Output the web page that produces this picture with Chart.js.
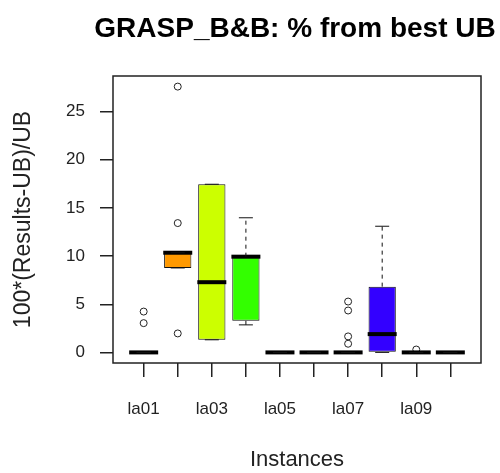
<!DOCTYPE html>
<html>
<head>
<meta charset="utf-8">
<script src="https://cdn.jsdelivr.net/npm/chart.js@4.4.0/dist/chart.umd.min.js"></script>
<style>
  html, body { margin: 0; padding: 0; background: #fff; }
  #wrap { width: 500px; height: 473px; }
</style>
</head>
<body>
<div id="wrap"><canvas id="boxChart" width="500" height="473"></canvas></div>
<script>
// GRASP_B&B deviation from the best upper bound, one box per instance
const chartTitle = 'GRASP_B&B: % from best UB';
const instances = ['la01', 'la02', 'la03', 'la04', 'la05', 'la06', 'la07', 'la08', 'la09', 'la10'];
const xTickLabels = ['la01', '', 'la03', '', 'la05', '', 'la07', '', 'la09', ''];
const yTicks = [0, 5, 10, 15, 20, 25];

const q1        = [0, 8.77, 1.31, 3.28, 0, 0, 0, 0, 0, 0];
const median    = [0, 10.35, 7.29, 9.94, 0, 0, 0, 1.9, 0, 0];
const q3        = [0, 10.35, 17.46, 9.94, 0, 0, 0, 6.83, 0, 0];
const whiskLow  = [0, 8.77, 1.31, 2.86, 0, 0, 0, 0, 0, 0];
const whiskHigh = [0, 10.35, 17.46, 13.98, 0, 0, 0, 13.1, 0, 0];
const outliers  = [[3.04, 4.24], [1.97, 13.43, 27.6], [], [], [], [], [0.9, 1.66, 4.35, 5.28], [], [0.3], []];

// rainbow(10)
const boxColors = ['#FF0000', '#FF9900', '#CCFF00', '#33FF00', '#00FF66', '#00FFFF', '#0066FF', '#3300FF', '#CC00FF', '#FF0099'];

const ink = '#222';
const fontFamily = '"Liberation Sans", Arial, sans-serif';

// dashed whiskers + staples
const whiskerPlugin = {
    id: 'whiskers',
    afterDatasetsDraw(chart) {
        const { ctx, scales: { x, y } } = chart;
        ctx.save();
        ctx.strokeStyle = '#111';
        ctx.lineWidth = 1;
        instances.forEach((name, i) => {
            const px = x.getPixelForValue(i + 1);
            [[q3[i], whiskHigh[i]], [q1[i], whiskLow[i]]].forEach(([from, to]) => {
                const y0 = y.getPixelForValue(from);
                const y1 = y.getPixelForValue(to);
                ctx.setLineDash([4, 4]);
                ctx.beginPath();
                ctx.moveTo(px, y0);
                ctx.lineTo(px, y1);
                ctx.stroke();
                ctx.setLineDash([]);
                ctx.beginPath();
                ctx.moveTo(px - 7, y1);
                ctx.lineTo(px + 7, y1);
                ctx.stroke();
            });
        });
        ctx.restore();
    }
};

// box around the plot region and the main title above it
const framePlugin = {
    id: 'frame',
    afterDraw(chart) {
        const { ctx, chartArea: a } = chart;
        ctx.save();
        ctx.strokeStyle = ink;
        ctx.lineWidth = 1.5;
        ctx.strokeRect(a.left, a.top, a.right - a.left, a.bottom - a.top);
        ctx.fillStyle = '#000';
        ctx.font = 'bold 28px ' + fontFamily;
        ctx.textAlign = 'center';
        ctx.textBaseline = 'alphabetic';
        ctx.fillText(chartTitle, (a.left + a.right) / 2 - 2, 37);
        ctx.restore();
    }
};

const ctx = document.getElementById('boxChart').getContext('2d');
new Chart(ctx, {
    type: 'bar',
    data: {
        datasets: [{
            type: 'scatter',
            order: 0,
            data: instances.map((_, i) => ({ x: i + 1, y: median[i] })),
            pointStyle: 'line',
            pointRadius: 14.5,
            pointHoverRadius: 14.5,
            borderColor: '#000',
            borderWidth: 4
        }, {
            type: 'scatter',
            order: 1,
            data: outliers.flatMap((vals, i) => vals.map(v => ({ x: i + 1, y: v }))),
            pointStyle: 'circle',
            pointRadius: 3.5,
            borderColor: ink,
            borderWidth: 1,
            backgroundColor: 'rgba(255,255,255,0)'
        }, {
            type: 'bar',
            order: 2,
            data: instances.map((_, i) => ({ x: i + 1, y: [q1[i], q3[i]] })),
            backgroundColor: boxColors,
            borderColor: '#111',
            borderWidth: 1,
            borderSkipped: false,
            categoryPercentage: 0.8,
            barPercentage: 1
        }]
    },
    options: {
        responsive: false,
        animation: false,
        events: [],
        layout: { padding: { top: 76, right: 19, left: 0, bottom: 0 } },
        plugins: {
            legend: { display: false },
            tooltip: { enabled: false },
            title: { display: false }
        },
        scales: {
            x: {
                type: 'linear',
                min: 0.1,
                max: 10.9,
                offset: false,
                afterFit: scale => { scale.height = 110; },
                afterBuildTicks: scale => { scale.ticks = instances.map((_, i) => ({ value: i + 1 })); },
                grid: { drawOnChartArea: false, drawTicks: true, tickLength: 14, color: ink, lineWidth: 1.5, offset: false },
                border: { display: false },
                ticks: {
                    autoSkip: false,
                    maxRotation: 0,
                    padding: 22,
                    color: ink,
                    font: { family: fontFamily, size: 17 },
                    callback: (value, index) => xTickLabels[index]
                },
                title: {
                    display: true,
                    text: 'Instances',
                    color: ink,
                    font: { family: fontFamily, size: 22 },
                    padding: { top: 0, bottom: 0 }
                }
            },
            y: {
                min: -1.1,
                max: 28.7,
                afterFit: scale => { scale.width = 113; },
                afterBuildTicks: scale => { scale.ticks = yTicks.map(v => ({ value: v })); },
                grid: { drawOnChartArea: false, drawTicks: true, tickLength: 13, color: ink, lineWidth: 1.5 },
                border: { display: false },
                ticks: {
                    padding: 15,
                    color: ink,
                    font: { family: fontFamily, size: 17 }
                },
                title: {
                    display: true,
                    text: '100*(Results-UB)/UB',
                    color: ink,
                    font: { family: fontFamily, size: 23 },
                    padding: { top: 10, bottom: 0 }
                }
            }
        }
    },
    plugins: [whiskerPlugin, framePlugin]
});
</script>
</body>
</html>
